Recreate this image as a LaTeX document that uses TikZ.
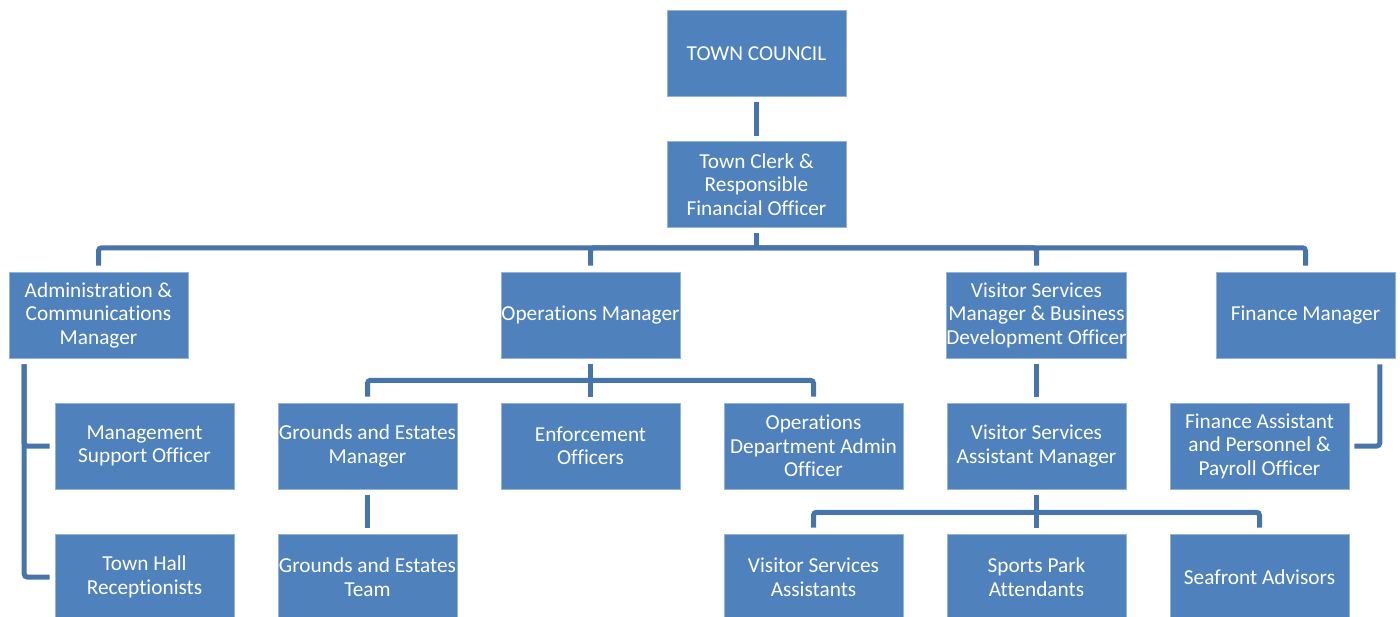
\documentclass[tikz,border=0pt]{standalone}
\usepackage{fontspec}
\setmainfont[RawFeature={-liga;-clig;-calt;-dlig}]{Carlito}
\usetikzlibrary{calc}
\definecolor{boxblue}{HTML}{4F81BD}
\definecolor{linkblue}{HTML}{4674AC}
\newcommand{\oneline}[1]{\raisebox{-1.5pt}{#1}}
\begin{document}
\begin{tikzpicture}[x=1pt,y=-1pt,
  box/.style={rectangle, fill=boxblue, draw=boxblue!60!white, line width=0.6pt,
    minimum width=179pt, minimum height=86pt, inner sep=0pt, align=center,
    text=white, font=\fontsize{21.3}{23.5}\selectfont},
  conn/.style={draw=linkblue, line width=5pt},
  elbow/.style={conn, rounded corners=3pt, shorten >=6pt},
  direct/.style={conn, shorten <=6pt, shorten >=6pt}]
\useasboundingbox (0,0) rectangle (1400,617);
\clip (0,0) rectangle (1400,617);
% level 0-1
\node[box] (tc) at (756.5,53.5) {\oneline{TOWN COUNCIL}};
\node[box] (clerk) at (756.5,184.5) {Town Clerk \&\\Responsible\\Financial Officer};
% level 2
\node[box] (admin) at (98.5,315) {Administration \&\\Communications\\Manager};
\node[box] (ops) at (590.5,315) {\oneline{Operations Manager}};
\node[box] (vsm) at (1036.5,315) {Visitor Services\\Manager \& Business\\Development Officer};
\node[box] (fm) at (1305.5,315) {\oneline{Finance Manager}};
% level 3
\node[box] (mso) at (144.5,446) {Management\\Support Officer};
\node[box] (gem) at (367.5,446) {Grounds and Estates\\Manager};
\node[box] (enf) at (590.5,446) {Enforcement\\Officers};
\node[box] (oda) at (813.5,446) {Operations\\Department Admin\\Officer};
\node[box] (vsam) at (1036.5,446) {Visitor Services\\Assistant Manager};
\node[box] (fa) at (1259.5,446) {Finance Assistant\\and Personnel \&\\Payroll Officer};
% level 4
\node[box] (thr) at (144.5,577) {Town Hall\\Receptionists};
\node[box] (get) at (367.5,577) {Grounds and Estates\\Team};
\node[box] (vsa) at (813.5,577) {Visitor Services\\Assistants};
\node[box] (spa) at (1036.5,577) {Sports Park\\Attendants};
\node[box] (sfa) at (1259.5,577) {\oneline{Seafront Advisors}};
% connectors
\draw[direct, shorten <=5pt, shorten >=5pt] (tc) -- (clerk);
\coordinate (topbar) at ($(clerk.south)+(0,20)$);
\draw[conn, shorten <=5pt] (clerk.south) -- (topbar);
\draw[elbow] (topbar) -| (admin.north);
\draw[elbow] (topbar) -| (ops.north);
\draw[elbow] (topbar) -| (vsm.north);
\draw[elbow] (topbar) -| (fm.north);
% admin branch
\coordinate (adminspine) at ($(admin.south west)+(15.5,6)$);
\draw[conn, rounded corners=3pt, shorten >=5pt] (adminspine) |- (mso.west);
\draw[conn, rounded corners=3pt, shorten >=5pt] (adminspine) |- (thr.west);
% operations branch
\draw[direct] (ops) -- (enf);
\coordinate (opsbar) at ($(ops.south)+(0,22)$);
\draw[elbow] (opsbar) -| (gem.north);
\draw[elbow] (opsbar) -| (oda.north);
\draw[direct] (gem) -- (get);
% visitor branch
\draw[direct] (vsm) -- (vsam);
\draw[direct] (vsam) -- (spa);
\coordinate (vsbar) at ($(vsam.south)+(0,23)$);
\draw[elbow] (vsbar) -| (vsa.north);
\draw[elbow] (vsbar) -| (sfa.north);
% finance branch
\coordinate (finspine) at ($(fm.south east)+(-15.5,6)$);
\draw[conn, rounded corners=3pt, shorten >=5pt] (finspine) |- (fa.east);
\end{tikzpicture}
\end{document}
